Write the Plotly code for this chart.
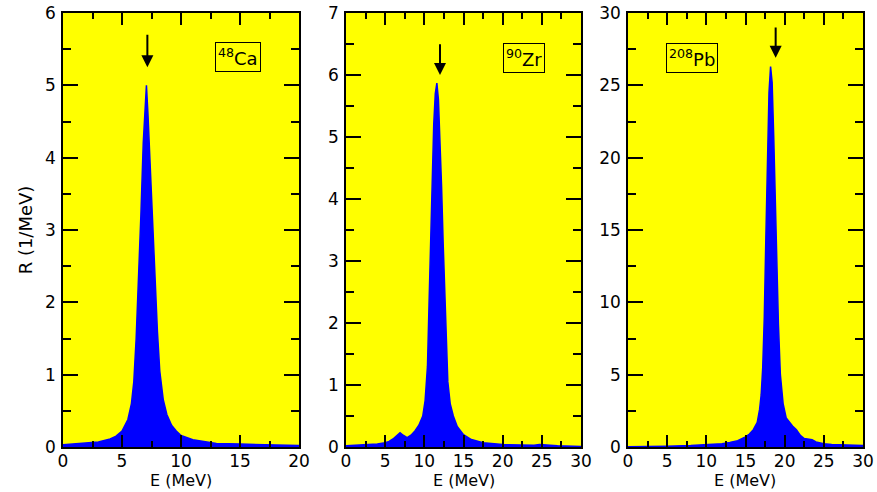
import plotly.graph_objects as go

# 48Ca strength distribution
ca_E = [0, 1, 2, 3, 4, 4.5, 5, 5.5, 5.8, 6.0, 6.2, 6.4, 6.6, 6.8, 7.0, 7.07, 7.2, 7.4,
        7.6, 7.8, 8.0, 8.2, 8.5, 8.8, 9.2, 9.6, 10, 11, 12, 13, 15, 17, 20]
ca_R = [0.03, 0.04, 0.05, 0.07, 0.11, 0.15, 0.22, 0.38, 0.6, 0.9, 1.5, 2.3, 3.2, 4.2, 4.85,
        5.0, 4.6, 3.8, 3.0, 2.2, 1.6, 1.05, 0.65, 0.45, 0.3, 0.22, 0.16, 0.1, 0.07, 0.05,
        0.04, 0.03, 0.02]

# 90Zr
zr_E = [0, 2, 4, 5, 5.5, 6, 6.5, 6.9, 7.3, 7.8, 8.3, 8.8, 9.3, 9.8, 10.1, 10.4, 10.6, 10.8,
        11.0, 11.2, 11.4, 11.6, 11.8, 12.0, 12.2, 12.4, 12.6, 12.8, 13.0, 13.3, 13.7, 14.2,
        15, 16, 17.5, 20, 22, 24, 24.7, 25.5, 27, 30]
zr_R = [0.02, 0.03, 0.05, 0.07, 0.09, 0.13, 0.19, 0.23, 0.19, 0.15, 0.19, 0.26, 0.35, 0.5,
        0.75, 1.3, 2.3, 3.3, 4.4, 5.2, 5.7, 5.87, 5.6, 5.0, 4.2, 3.3, 2.5, 1.6, 1.05, 0.7,
        0.5, 0.33, 0.2, 0.12, 0.07, 0.04, 0.03, 0.03, 0.04, 0.03, 0.02, 0.01]

# 208Pb
pb_E = [0, 3, 5, 8, 10, 12, 13, 14, 15, 15.5, 16, 16.5, 16.8, 17.0, 17.2, 17.4, 17.6, 17.8,
        18.0, 18.2, 18.4, 18.6, 18.8, 19.0, 19.2, 19.45, 19.8, 20.2, 20.6, 21.0, 21.5, 22.0,
        22.5, 23.0, 23.5, 24.0, 25, 26, 28, 30]
pb_R = [0.02, 0.03, 0.05, 0.1, 0.14, 0.22, 0.32, 0.44, 0.7, 0.9, 1.2, 1.7, 2.6, 3.6, 5.5,
        9.0, 14.5, 20.0, 24.5, 26.3, 25.2, 21.5, 17.0, 12.5, 8.5, 5.0, 3.0, 2.0, 1.7, 1.45,
        1.2, 0.8, 0.58, 0.52, 0.5, 0.35, 0.23, 0.18, 0.14, 0.1]

labels = ["<sup>48</sup>Ca", "<sup>90</sup>Zr", "<sup>208</sup>Pb"]
x_max = [20, 30, 30]
y_max = [6, 7, 30]
y_dtick = [1, 1, 5]
# arrow (centroid) positions: E, top, tip
arrow_E = [7.15, 12.0, 18.85]
arrow_top = [5.72, 6.52, 29.1]
arrow_tip = [5.25, 6.0, 26.9]
# label box centres
label_E = [14.85, 22.7, 8.2]
label_R = [5.39, 6.28, 26.9]

series = [(ca_E, ca_R), (zr_E, zr_R), (pb_E, pb_R)]

W, H = 877, 492
def px_x(p):
    return p / W
def px_y(p):
    return 1 - p / H

x_dom = [(px_x(63), px_x(299)), (px_x(346), px_x(581)), (px_x(628), px_x(863))]
y_dom = (px_y(447), px_y(13))

FONT = "DejaVu Sans"

fig = go.Figure()
for i, (E, R) in enumerate(series):
    n = "" if i == 0 else str(i + 1)
    fig.add_trace(go.Scatter(
        x=E, y=R, mode="lines", fill="tozeroy",
        fillcolor="#0000ff", line=dict(color="#0000ff", width=1.5),
        xaxis="x" + n, yaxis="y" + n, showlegend=False,
    ))
    common = dict(
        showline=True, linecolor="black", linewidth=1.5, mirror="ticks",
        ticks="inside", tickcolor="black", tickwidth=1.5,
        showgrid=False, zeroline=False, automargin=False, ticklabeloverflow="allow",
        tickfont=dict(family=FONT, size=17, color="black"),
    )
    fig.update_layout({
        "xaxis" + n: dict(
            domain=x_dom[i], range=[0, x_max[i]], dtick=5, ticklen=12,
            minor=dict(dtick=2.5, ticklen=6, tickcolor="black", tickwidth=1.5, ticks="inside"),
            anchor="y" + n, ticklabelstandoff=-2,
            **common),
        "yaxis" + n: dict(
            domain=y_dom, range=[0, y_max[i]], dtick=y_dtick[i], ticklen=15,
            minor=dict(dtick=y_dtick[i] / 2, ticklen=8, tickcolor="black", tickwidth=1.5, ticks="inside"),
            anchor="x" + n, ticklabelstandoff=2,
            **common),
    })
    fig.add_annotation(
        x=arrow_E[i], y=arrow_tip[i], ax=arrow_E[i], ay=arrow_top[i],
        xref="x" + n, yref="y" + n, axref="x" + n, ayref="y" + n,
        showarrow=True, arrowhead=2, arrowsize=1.2, arrowwidth=2, arrowcolor="black", text="",
    )
    fig.add_annotation(
        x=label_E[i], y=label_R[i], xref="x" + n, yref="y" + n,
        text=labels[i], showarrow=False, bordercolor="black", borderwidth=1, borderpad=2,
        font=dict(family=FONT, size=18, color="black"),
    )
    # x axis title
    fig.add_annotation(
        x=(x_dom[i][0] + x_dom[i][1]) / 2, y=px_y(480), xref="paper", yref="paper",
        text="E (MeV)", showarrow=False, xanchor="center", yanchor="middle",
        font=dict(family=FONT, size=16, color="black"),
    )

fig.update_layout(yaxis_title=dict(text="R (1/MeV)", font=dict(family=FONT, size=18, color="black"),
                                   standoff=8))

fig.update_layout(
    width=W, height=H, autosize=False,
    margin=dict(l=0, r=0, t=0, b=0),
    paper_bgcolor="white", plot_bgcolor="#ffff00",
    font=dict(family=FONT, color="black"),
)

# drop the page's default body margin so the figure sits at the window corner
fig.write_html("out.html", config={"displayModeBar": False},
               post_script="document.body.style.margin = '0px';")
